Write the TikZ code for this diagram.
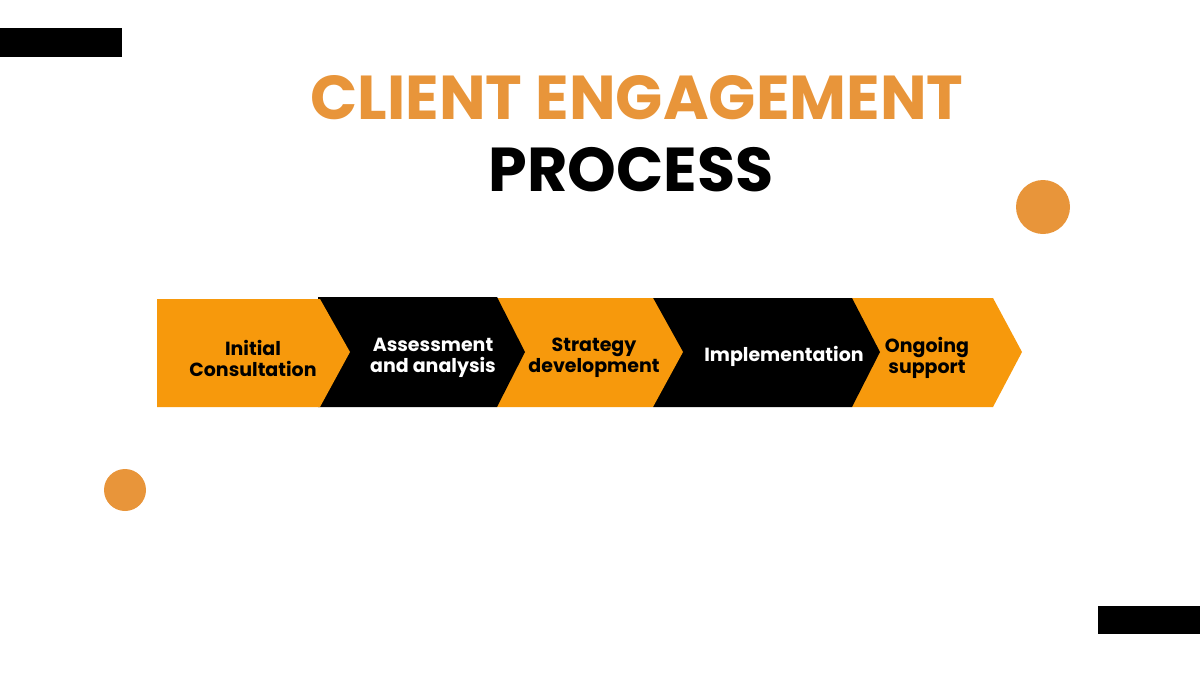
\documentclass[tikz,border=0pt]{standalone}
\usepackage{fontspec}
\setmainfont{Poppins}
\usetikzlibrary{positioning}
\definecolor{stepor}{HTML}{F7990C}
\definecolor{titleor}{HTML}{E8953A}
\begin{document}
\begin{tikzpicture}[x=0.5pt,y=-0.5pt,
label/.style={font=\bfseries\fontsize{9.5}{10.5}\selectfont, align=center, text=black},
wlabel/.style={label, text=white}]
\useasboundingbox (0,0) rectangle (1200,675);

\fill[black] (0,28) rectangle (122,57);
\fill[black] (1098,606) rectangle (1200,634);
\fill[titleor] (1043,207) circle (27);
\fill[titleor] (125,490) circle (21);

\node[font=\bfseries\fontsize{31}{34}\selectfont, text=titleor] (t1) at (637,98) {CLIENT ENGAGEMENT};
\node[font=\bfseries\fontsize{31}{34}\selectfont] (t2) at (631,170) {PROCESS};

% chevrons, last one first so each tip lies on top
\fill[stepor] (852,298) -- (993,298) -- (1022,352) -- (993,407) -- (852,407) -- cycle;
\fill[black] (653,298) -- (852,298) -- (880,352) -- (852,407) -- (653,407) -- cycle;
\fill[stepor] (497,298) -- (653,298) -- (683,352) -- (653,407) -- (497,407) -- cycle;
\fill[black] (318,297) -- (497,297) -- (525,352) -- (497,407) -- (318,407) -- cycle;
\fill[stepor] (157,299) -- (320,299) -- (350,352) -- (320,407) -- (157,407) -- cycle;

\node[label] (s1) at (253,358) {Initial\\Consultation};
\node[wlabel] (s2) at (433,358) {Assessment\\and analysis};
\node[label] (s3) at (594,358) {Strategy\\development};
\node[wlabel] (s4) at (784,356) {Implementation};
\node[label] (s5) at (927,358) {Ongoing\\support};
\end{tikzpicture}
\end{document}
